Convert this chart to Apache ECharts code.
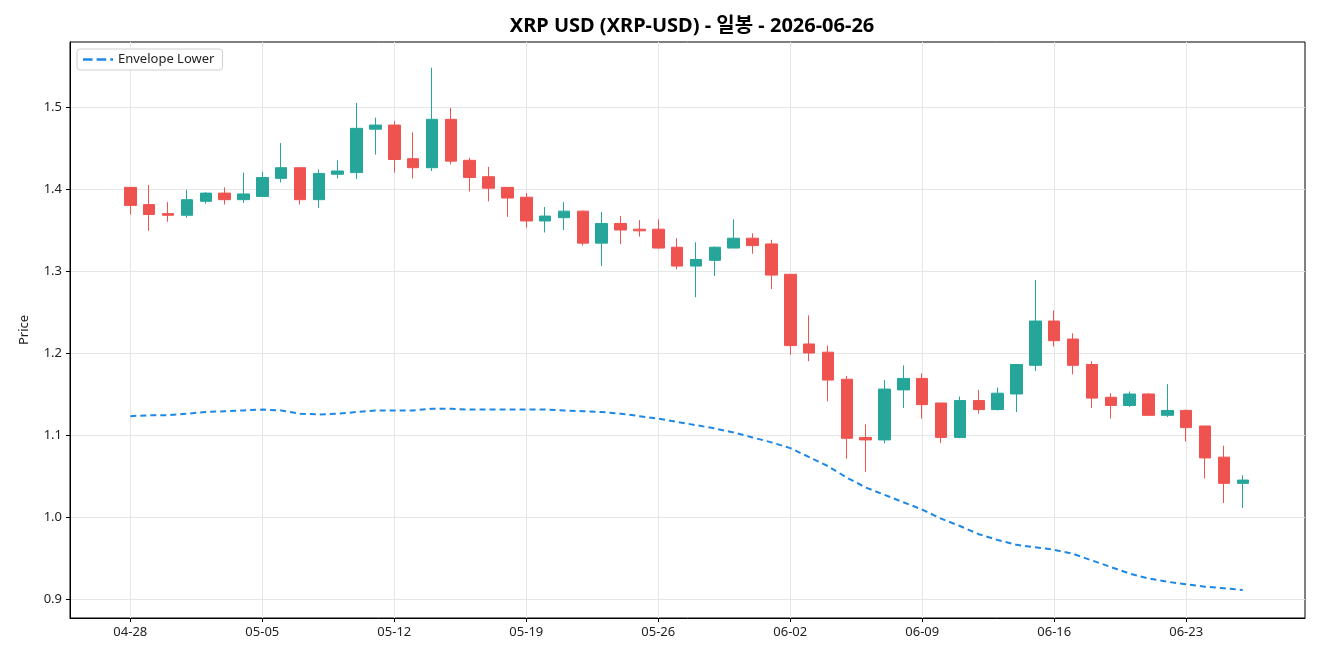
<!DOCTYPE html>
<html>
<head>
<meta charset="utf-8">
<script src="https://cdn.jsdelivr.net/npm/echarts@6/dist/echarts.min.js"></script>
<style>
  html, body { margin: 0; padding: 0; background: #fff; }
  #chart { width: 1320px; height: 660px; }
</style>
</head>
<body>
<div id="chart"></div>
<script>
// dates of the daily candles (04-28 .. 06-26)
const dates = ['04-28','04-29','04-30','05-01','05-02','05-03','05-04','05-05','05-06','05-07',
  '05-08','05-09','05-10','05-11','05-12','05-13','05-14','05-15','05-16','05-17',
  '05-18','05-19','05-20','05-21','05-22','05-23','05-24','05-25','05-26','05-27',
  '05-28','05-29','05-30','05-31','06-01','06-02','06-03','06-04','06-05','06-06',
  '06-07','06-08','06-09','06-10','06-11','06-12','06-13','06-14','06-15','06-16',
  '06-17','06-18','06-19','06-20','06-21','06-22','06-23','06-24','06-25','06-26'];

const opens  = [1.402,1.381,1.370,1.368,1.385,1.395,1.387,1.391,1.413,1.426,
  1.387,1.418,1.420,1.473,1.478,1.437,1.426,1.485,1.435,1.415,
  1.402,1.390,1.361,1.365,1.373,1.334,1.358,1.351,1.351,1.329,
  1.306,1.313,1.328,1.340,1.333,1.296,1.211,1.201,1.168,1.097,
  1.094,1.155,1.169,1.139,1.097,1.142,1.131,1.150,1.185,1.239,
  1.217,1.186,1.146,1.136,1.150,1.124,1.130,1.111,1.073,1.041];
const closes = [1.380,1.369,1.368,1.387,1.395,1.387,1.394,1.414,1.426,1.387,
  1.419,1.422,1.474,1.478,1.436,1.426,1.485,1.434,1.414,1.401,
  1.389,1.361,1.367,1.373,1.334,1.358,1.350,1.349,1.328,1.306,
  1.314,1.329,1.340,1.331,1.295,1.209,1.200,1.167,1.096,1.094,
  1.156,1.169,1.137,1.097,1.142,1.131,1.151,1.186,1.239,1.215,
  1.185,1.145,1.136,1.150,1.124,1.130,1.109,1.072,1.041,1.045];
const lows   = [1.369,1.349,1.360,1.365,1.382,1.381,1.383,1.391,1.408,1.381,
  1.377,1.413,1.412,1.442,1.420,1.413,1.422,1.430,1.397,1.385,
  1.366,1.353,1.347,1.350,1.331,1.306,1.333,1.342,1.327,1.302,
  1.268,1.294,1.328,1.321,1.278,1.198,1.190,1.141,1.071,1.055,
  1.090,1.133,1.120,1.090,1.096,1.126,1.130,1.128,1.178,1.208,
  1.174,1.133,1.120,1.134,1.123,1.122,1.092,1.047,1.017,1.011];
const highs  = [1.402,1.405,1.384,1.399,1.396,1.402,1.420,1.421,1.456,1.426,
  1.424,1.435,1.505,1.487,1.483,1.469,1.548,1.499,1.438,1.427,
  1.402,1.395,1.378,1.384,1.374,1.372,1.367,1.362,1.363,1.340,
  1.335,1.330,1.363,1.346,1.338,1.296,1.246,1.209,1.172,1.113,
  1.167,1.185,1.175,1.139,1.147,1.155,1.158,1.186,1.289,1.252,
  1.224,1.190,1.151,1.153,1.151,1.162,1.131,1.111,1.087,1.051];

const envelopeLower = [1.123,1.124,1.124,1.126,1.128,1.129,1.130,1.131,1.130,1.126,
  1.125,1.126,1.128,1.130,1.130,1.130,1.132,1.132,1.131,1.131,
  1.131,1.131,1.131,1.130,1.129,1.128,1.126,1.123,1.120,1.116,
  1.112,1.108,1.103,1.097,1.091,1.084,1.073,1.062,1.048,1.036,
  1.027,1.018,1.009,0.998,0.989,0.979,0.972,0.966,0.963,0.960,
  0.955,0.947,0.939,0.931,0.925,0.921,0.918,0.915,0.913,0.911];

const xTicks = [0, 7, 14, 21, 28, 35, 42, 49, 56];
const yTicks = [0.9, 1.0, 1.1, 1.2, 1.3, 1.4, 1.5];

const font = '"Noto Sans", "Noto Sans CJK KR", sans-serif';

const candleData = dates.map(function (d, i) {
  return [i, opens[i], closes[i], lows[i], highs[i]];
});
const envData = envelopeLower.map(function (v, i) { return [i, v]; });

const chart = echarts.init(document.getElementById('chart'));
chart.setOption({
  animation: false,
  backgroundColor: '#fff',
  title: {
    text: 'XRP USD (XRP-USD) - 일봉 - 2026-06-26',
    left: 687, top: 11, textAlign: 'center',
    textStyle: { fontFamily: font, fontSize: 20, fontWeight: 'bold', color: '#000' }
  },
  legend: {
    left: 77, top: 49,
    padding: [4, 8, 4, 6],
    itemWidth: 30, itemHeight: 10, itemGap: 6,
    borderColor: '#d0d0d0', borderWidth: 1, borderRadius: 3,
    backgroundColor: '#fff',
    textStyle: { fontFamily: font, fontSize: 13, color: '#222' },
    data: [{ name: 'Envelope Lower', icon: 'path://M0,4 L7,4 L7,6 L0,6 Z M10,4 L17,4 L17,6 L10,6 Z M20,4 L22,4 L22,6 L20,6 Z' }]
  },
  grid: {
    left: 70, right: 15, top: 42, bottom: 42,
    show: true, borderColor: '#000', borderWidth: 1
  },
  xAxis: {
    type: 'value', min: -3.2, max: 62.3,
    axisLine: { show: true, onZero: false, lineStyle: { color: '#000' } },
    axisTick: { show: true, length: 4, lineStyle: { color: '#000' }, customValues: xTicks },
    axisLabel: {
      customValues: xTicks, color: '#222', fontFamily: font, fontSize: 13, margin: 8,
      formatter: function (v) { return dates[Math.round(v)] || ''; }
    },
    splitLine: { show: true, lineStyle: { color: '#e6e6e6', width: 1 } }
  },
  yAxis: {
    type: 'value', min: 0.8768, max: 1.5793,
    name: 'Price', nameLocation: 'middle', nameGap: 39,
    nameTextStyle: { fontFamily: font, fontSize: 13, color: '#222' },
    axisLine: { show: true, onZero: false, lineStyle: { color: '#000' } },
    axisTick: { show: true, length: 4, lineStyle: { color: '#000' }, customValues: yTicks },
    axisLabel: {
      customValues: yTicks, color: '#222', fontFamily: font, fontSize: 13, margin: 8,
      formatter: function (v) { return v.toFixed(1); }
    },
    splitLine: { show: true, lineStyle: { color: '#e6e6e6', width: 1 } }
  },
  series: [
    {
      name: 'XRP', type: 'candlestick',
      data: candleData,
      encode: { x: 0, y: [1, 2, 3, 4] },
      barWidth: 12,
      itemStyle: {
        color: '#26a69a', color0: '#ef5350',
        borderColor: '#26a69a', borderColor0: '#ef5350',
        borderWidth: 1
      }
    },
    {
      name: 'Envelope Lower', type: 'line',
      data: envData,
      showSymbol: false, symbol: 'none',
      lineStyle: { color: '#1e88e5', width: 2, type: [6, 4] },
      itemStyle: { color: '#1e88e5' },
      z: 3
    }
  ]
});
</script>
</body>
</html>
